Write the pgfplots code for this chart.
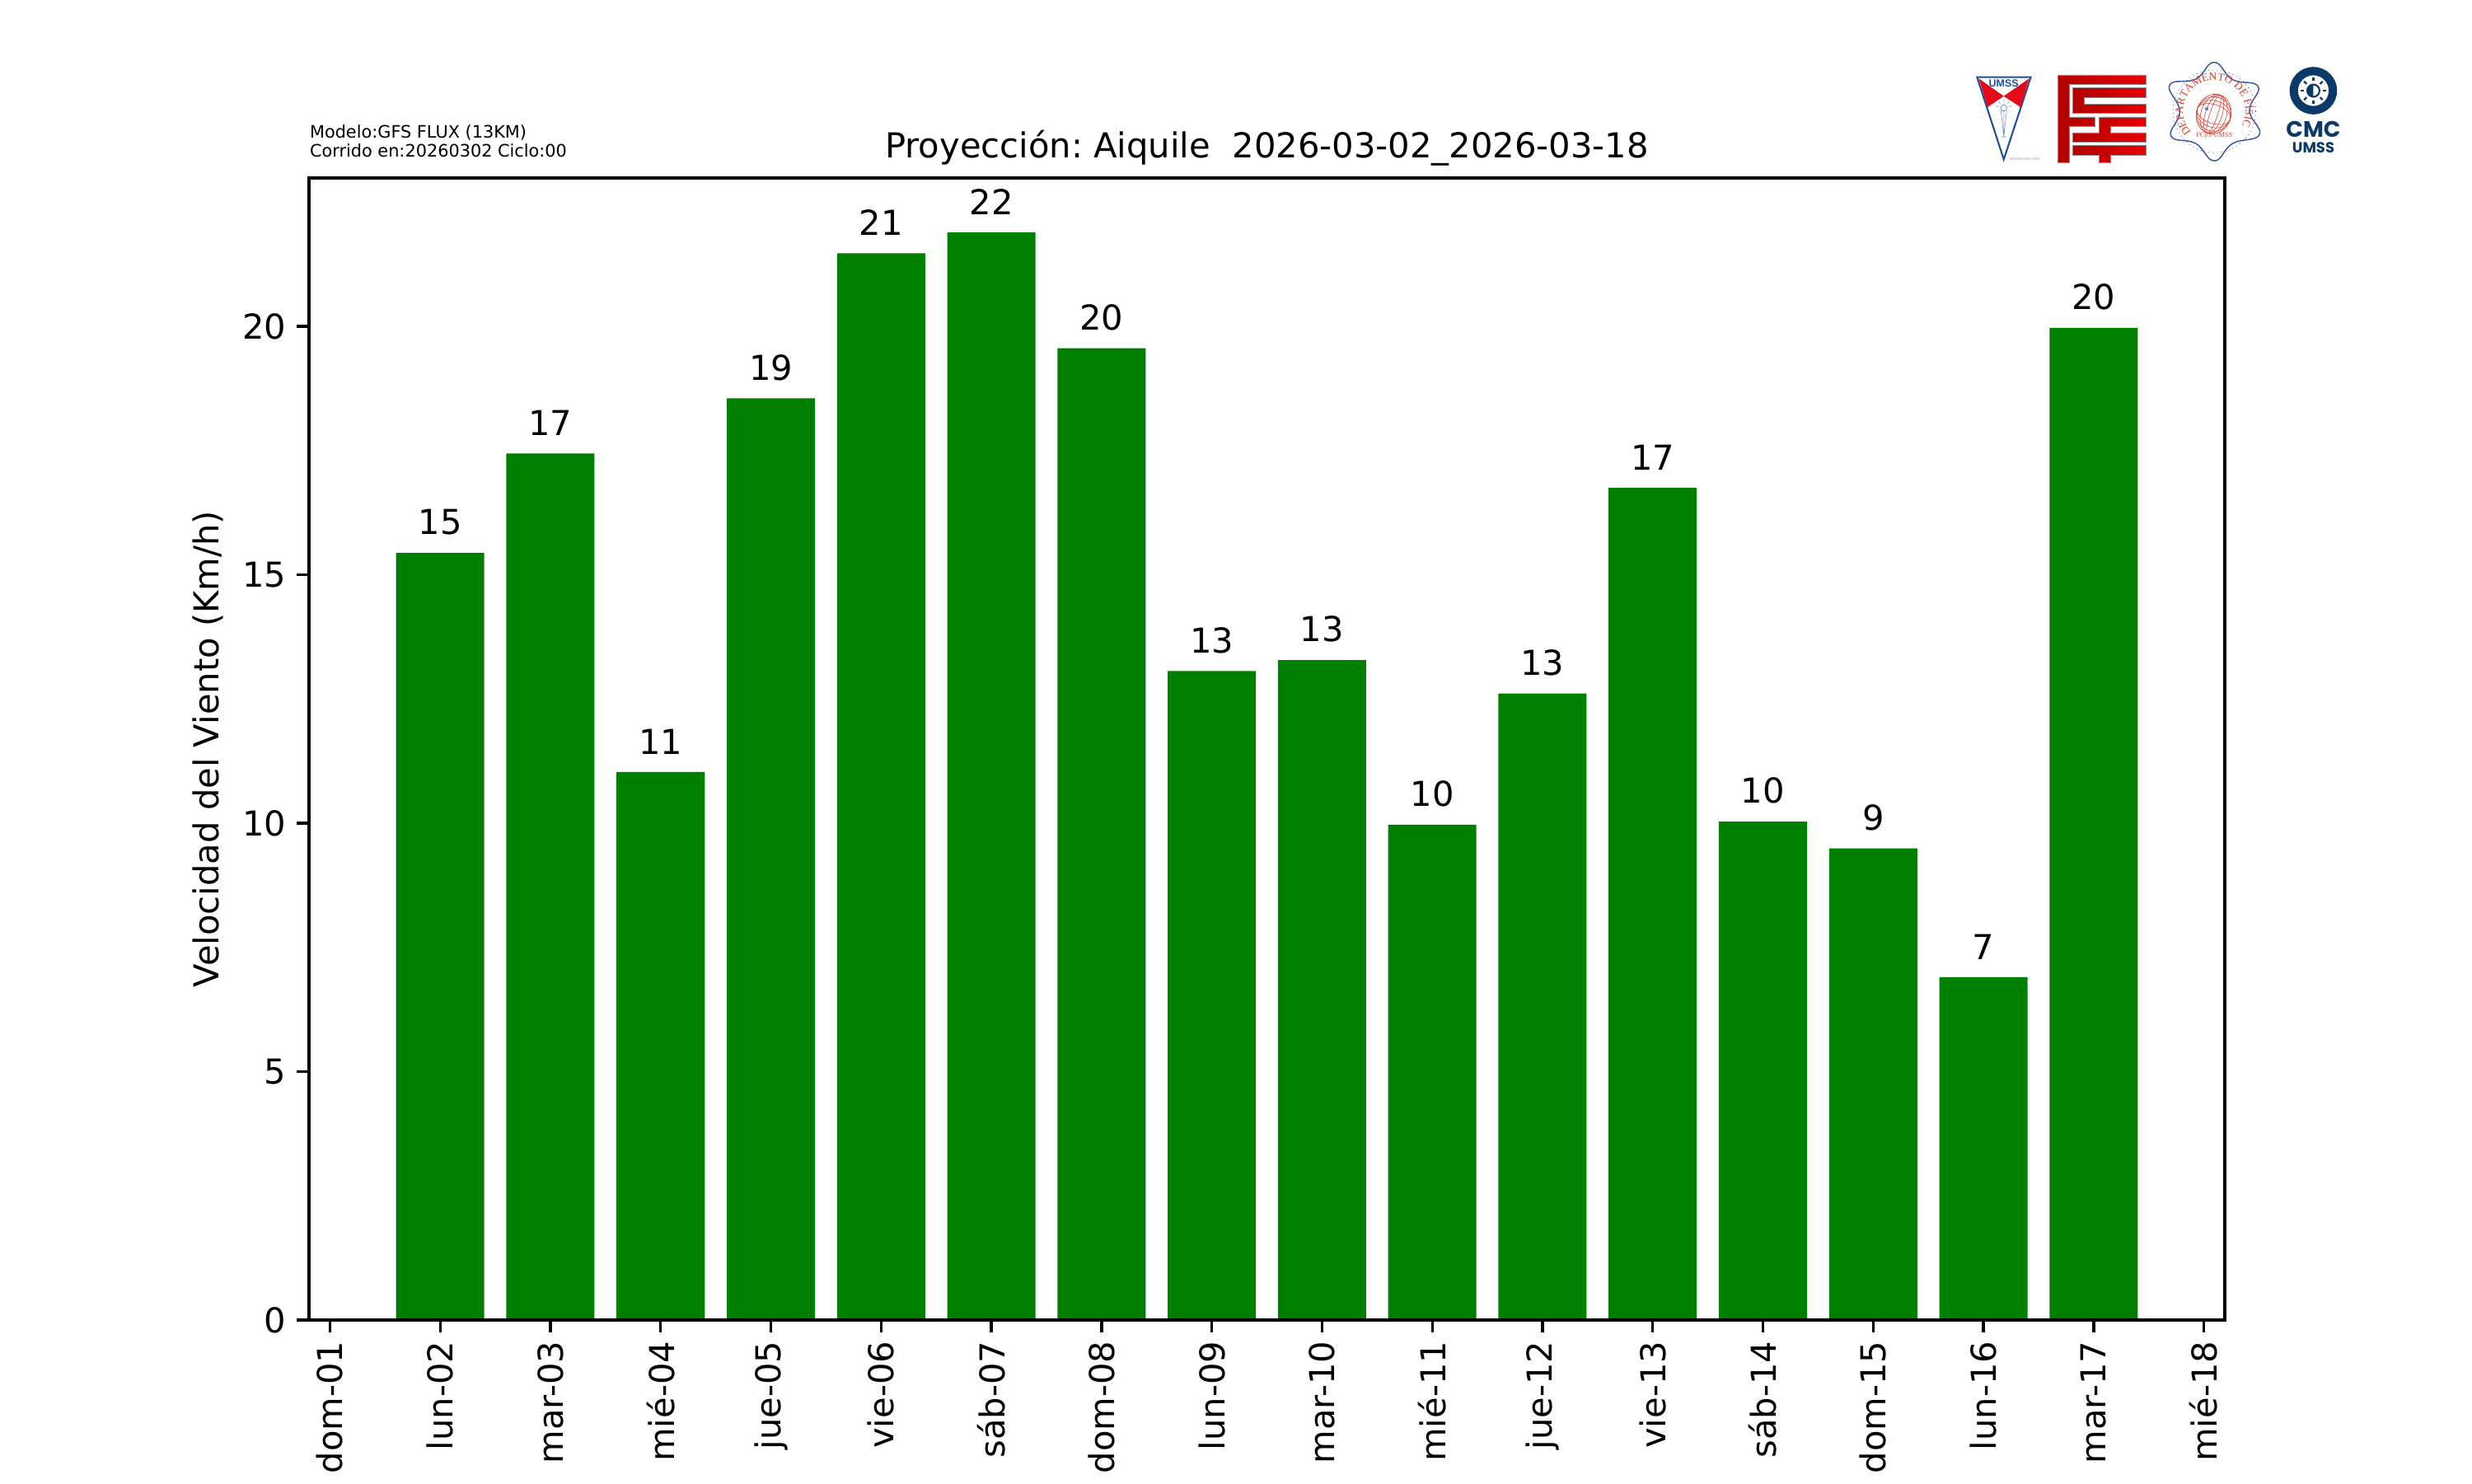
\documentclass[border=0pt]{standalone}
\usepackage{fontspec}
\usepackage{pgfplots}
\pgfplotsset{compat=1.18}
\usetikzlibrary{decorations.text,shadings}
\setmainfont{DejaVu Sans}
\newfontfamily\lib{Liberation Sans}
\newfontfamily\libs{Liberation Serif}
\newfontfamily\pop{Poppins}
\definecolor{mplgreen}{HTML}{008000}
\definecolor{navy}{HTML}{0B3A68}
\definecolor{ublue}{HTML}{1F4E9E}
\definecolor{ured}{HTML}{E30B17}
\definecolor{fred1}{HTML}{B00000}
\definecolor{fred2}{HTML}{EA0000}
\definecolor{dblue}{HTML}{3B55A5}
\definecolor{dred}{HTML}{D8402E}
\def\fs#1{\fontsize{#1bp}{#1bp}\selectfont}
\def\z{0.00113in}
\begin{document}
\begin{tikzpicture}
\path[use as bounding box] (0,0) rectangle (10in,6in);
\begin{axis}[
  at={(1.25in,0.66in)}, anchor=south west,
  width=7.75in, height=4.62in, scale only axis,
  ybar, bar width=0.8, bar shift=0pt,
  xmin=-0.19, xmax=17.19, ymin=0, ymax=22.985,
  xtick={0,1,...,17},
  xticklabels={dom-01,lun-02,mar-03,mié-04,jue-05,vie-06,sáb-07,dom-08,lun-09,mar-10,mié-11,jue-12,vie-13,sáb-14,dom-15,lun-16,mar-17,mié-18},
  ytick={0,5,10,15,20},
  tick align=outside, tick pos=left,
  major tick length=3.5bp, minor tick length=0pt,
  tick style={black,line width=0.8bp},
  axis line style={line width=0.8bp},
  axis on top,
  /pgf/number format/assume math mode=true,
  tick label style={font=\fs{10}},
  xticklabel style={rotate=90,anchor=east,inner sep=0pt,xshift=0pt},
  xtick pos=bottom,
  yticklabel style={inner sep=0pt,anchor=east,xshift=-2.9bp},
  xticklabel shift=2.5bp,
  title={\frenchspacing Proyección: Aiquile\ \ 2026-03-02\_2026-03-18},
  title style={font=\fs{10},at={(0.5,1)},anchor=base,yshift=-0.2bp,inner sep=0pt},
  ylabel={Velocidad del Viento (Km/h)},
  every axis y label/.style={at={(axis description cs:-0.0529,0.5)},rotate=90,anchor=center,font=\fs{10},inner sep=0pt},
  nodes near coords={\pgfmathprintnumber[fixed,precision=0,assume math mode=true]{\pgfplotspointmeta}},
  point meta=y,
  every node near coord/.style={font=\fs{10},anchor=south,inner sep=0pt,yshift=5bp,black},
]
\addplot[draw=none,fill=mplgreen] coordinates {
(1,15.44) (2,17.44) (3,11.03) (4,18.55) (5,21.47) (6,21.89) (7,19.56) (8,13.06)
(9,13.28) (10,9.97) (11,12.61) (12,16.75) (13,10.03) (14,9.49) (15,6.90) (16,19.97)};
\end{axis}
% small notes, image pixel coordinates
\begin{scope}[x=0.00333333in,y=-0.00333333in,shift={(0,6in)}]
\node[anchor=base west,inner sep=0pt,font=\fs{5}] at (376,168) {Modelo:GFS FLUX (13KM)};
\node[anchor=base west,inner sep=0pt,font=\fs{5}] at (376,191) {Corrido en:20260302 Ciclo:00};
\end{scope}
% logos: coordinates are zoom-crop units from (2355,50)
\begin{scope}[x=0.00116917in,y=-0.00111111in,shift={(2355*0.00333333in,6in-50*0.00333333in)}]
% UMSS shield
\draw[ublue,line width=0.5bp,fill=white] (140,131)--(325,131)--(232,430)--cycle;
\fill[ured] (146,136)--(232,200)--(176,240)--cycle;
\fill[ured] (319,136)--(232,200)--(290,240)--cycle;
\node[inner sep=0pt,text=ublue,font=\lib\bfseries\fs{3.0}] at (232,153) {UMSS};
\draw[ublue,line width=0.1bp,fill=white] (232,243) circle[radius=11*\z];
\draw[ublue!70,line width=0.12bp] (222,252)--(232,348) (242,252)--(232,348) (232,254)--(232,352) (222,348)--(243,348);
\draw[ublue!70,line width=0.12bp] (205,235)--(215,238) (215,220)--(220,228) (232,213)--(232,222) (250,220)--(245,228) (260,235)--(250,238);
\node[inner sep=0pt,text=black!35,font=\lib\fs{1.25}] at (305,430) {preadictivo.com};
% FCyT
\begin{scope}[draw=black!45,line width=0.12bp]
\shade[left color=fred1,right color=fred2,draw=black!45] (418,123)--(722,123)--(722,158)--(458,158)--(458,275)--(545,275)--(545,310)--(458,310)--(458,440)--(418,440)--cycle;
\shade[left color=fred1,right color=fred2,draw=black!45] (469,170)--(722,170)--(722,205)--(508,205)--(508,228)--(722,228)--(722,263)--(469,263)--cycle;
\shade[left color=fred1,right color=fred2,draw=black!45] (560,275)--(722,275)--(722,310)--(598,310)--(598,332)--(722,332)--(722,367)--(469,367)--(469,332)--(560,332)--cycle;
\shade[left color=fred1,right color=fred2,draw=black!45] (469,379)--(722,379)--(722,415)--(598,415)--(598,440)--(560,440)--(560,415)--(469,415)--cycle;
\end{scope}
% Departamento de Fisica
\draw[dblue,line width=0.35bp] plot[smooth cycle,tension=0.75] coordinates {(957,77)(1020,140)(1108,165)(1078,252)(1112,340)(1020,372)(957,435)(893,372)(808,345)(838,255)(803,160)(893,138)};
\draw[dblue,line width=0.2bp,densely dotted] (957,255) circle[radius=148*\z];
\path[decorate,decoration={text along path,text align=center,text={|\libs\fs{3.2}\color{dred}|DEPARTAMENTO DE FÍSICA}}]
  (957,255) ++(212:112*\z) arc[start angle=212,end angle=-32,radius=112*\z];
\node[inner sep=0pt,text=dred,font=\libs\fs{2.0}] at (957,343) {FCyT-UMSS};
\begin{scope}[dred,line width=0.15bp]
\foreach \r in {62,46,30,14}{\draw (955,265) ellipse[x radius=\r*\z,y radius=72*\z,rotate=-18];}
\foreach \r in {62,48,34}{\draw (955,265) ellipse[x radius=62*\z,y radius=\r*\z,rotate=-18];}
\end{scope}
\fill[dblue!80] (931,246) circle[radius=6*\z];
% CMC
\fill[navy,even odd rule] (1298,180) circle[radius=85*\z] (1298,180) circle[radius=55*\z];
\foreach \a in {0,45,...,315}{\draw[navy,line width=0.55bp] (1298,180) ++(\a:34*\z) -- ++(\a:13*\z);}
\draw[navy,line width=0.5bp] (1298,180) circle[radius=22*\z];
\fill[navy] (1298,158) arc[start angle=90,end angle=270,radius=22*\z]--cycle;
\node[inner sep=0pt,anchor=base,text=navy,font=\pop\bfseries\fs{6.5}] at (1298,350) {CMC};
\node[inner sep=0pt,anchor=base,text=navy,font=\pop\bfseries\fs{4.3}] at (1298,405) {UMSS};
\end{scope}
\end{tikzpicture}
\end{document}
